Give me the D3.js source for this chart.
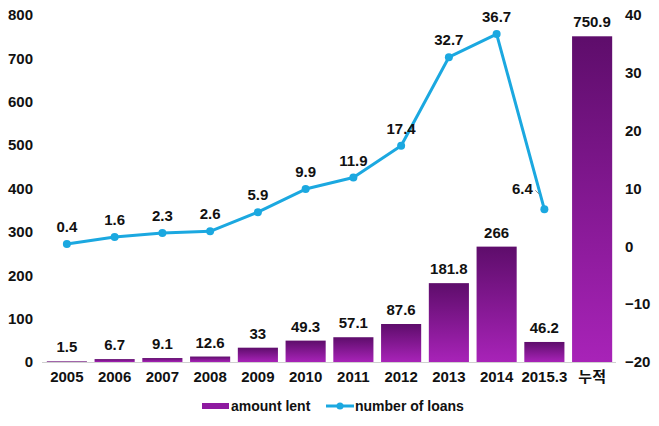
<!DOCTYPE html>
<html><head><meta charset="utf-8">
<script src="https://cdn.jsdelivr.net/npm/d3@7"></script>
<style>body{margin:0;background:#fff}svg text{font-family:"Liberation Sans","Noto Sans CJK KR",sans-serif;font-weight:bold;fill:#111}</style>
</head><body><svg id="c" width="659" height="426"></svg>
<script>
const categories = ["2005","2006","2007","2008","2009","2010","2011","2012","2013","2014","2015.3","누적"];
const amountLent = [1.5,6.7,9.1,12.6,33,49.3,57.1,87.6,181.8,266,46.2,750.9];
const numberOfLoans = [0.4,1.6,2.3,2.6,5.9,9.9,11.9,17.4,32.7,36.7,6.4];
const leftTicks = [0,100,200,300,400,500,600,700,800];
const rightTicks = [-20,-10,0,10,20,30,40];

const svg = d3.select("#c");
const x = d3.scaleBand().domain(categories).range([43,616]).paddingInner(0.16).paddingOuter(0.08);
const yL = d3.scaleLinear().domain([0,800]).range([362,15]);
const yR = d3.scaleLinear().domain([-20,40]).range([362,15]);

const defs = svg.append("defs");
const g = defs.append("linearGradient").attr("id","bg").attr("x1",0).attr("y1",0).attr("x2",0).attr("y2",1);
g.append("stop").attr("offset","0%").attr("stop-color","#5e0d6b");
g.append("stop").attr("offset","100%").attr("stop-color","#a823b8");

svg.append("g").attr("transform","translate(33,0)")
  .call(d3.axisLeft(yL).tickValues(leftTicks).tickSize(0).tickPadding(0))
  .call(s=>s.select(".domain").remove())
  .selectAll("text").attr("font-size",15).style("font-family",null).style("font-weight",null);
svg.append("g").attr("transform","translate(625,0)")
  .call(d3.axisRight(yR).tickValues(rightTicks).tickSize(0).tickPadding(0).tickFormat(d=>d<0?"\u2212"+(-d):d))
  .call(s=>s.select(".domain").remove())
  .selectAll("text").attr("font-size",15);

svg.append("g").selectAll("rect").data(categories).join("rect")
  .attr("x",d=>x(d)).attr("width",x.bandwidth())
  .attr("y",(d,i)=>yL(amountLent[i])).attr("height",(d,i)=>yL(0)-yL(amountLent[i]))
  .attr("fill","url(#bg)");

svg.append("line").attr("x1",42).attr("x2",616).attr("y1",yL(0)+0.5).attr("y2",yL(0)+0.5).attr("stroke","#d0d0d0");

svg.append("g").attr("transform",`translate(0,${yL(0)})`)
  .call(d3.axisBottom(x).tickSize(0).tickPadding(9))
  .call(s=>s.select(".domain").remove())
  .selectAll("text").attr("font-size",15);

svg.append("g").selectAll("text").data(categories).join("text")
  .attr("x",d=>x(d)+x.bandwidth()/2).attr("y",(d,i)=>yL(amountLent[i])-9)
  .attr("text-anchor","middle").attr("font-size",15).text((d,i)=>amountLent[i]);

const lc = categories.slice(0,numberOfLoans.length);
const line = d3.line().x(d=>x(d)+x.bandwidth()/2).y((d,i)=>yR(numberOfLoans[i]));
svg.append("path").datum(lc).attr("d",line).attr("fill","none").attr("stroke","#1ba8e0").attr("stroke-width",3).attr("stroke-linejoin","round");
svg.append("g").selectAll("circle").data(lc).join("circle")
  .attr("cx",d=>x(d)+x.bandwidth()/2).attr("cy",(d,i)=>yR(numberOfLoans[i])).attr("r",4).attr("fill","#1ba8e0");
svg.append("g").selectAll("text").data(lc).join("text")
  .attr("x",(d,i)=>x(d)+x.bandwidth()/2-(i===10?22:0))
  .attr("y",(d,i)=>yR(numberOfLoans[i])-(i===10?15:12))
  .attr("text-anchor","middle").attr("font-size",15).text((d,i)=>numberOfLoans[i].toFixed(1));
const lx = x(lc[10])+x.bandwidth()/2, ly = yR(numberOfLoans[10]);
svg.append("line").attr("x1",lx-9).attr("y1",ly-19).attr("x2",lx-5).attr("y2",ly-15).attr("stroke","#888").attr("stroke-width",1);

const lg = svg.append("g");
lg.append("rect").attr("x",202).attr("y",403).attr("width",27).attr("height",6).attr("fill","#8e1aa0");
lg.append("text").attr("x",231).attr("y",411).attr("font-size",14).text("amount lent");
lg.append("line").attr("x1",326).attr("x2",354).attr("y1",406).attr("y2",406).attr("stroke","#1ba8e0").attr("stroke-width",3);
lg.append("circle").attr("cx",340).attr("cy",406).attr("r",3.5).attr("fill","#1ba8e0");
lg.append("text").attr("x",355).attr("y",411).attr("font-size",14).text("number of loans");
</script></body></html>
